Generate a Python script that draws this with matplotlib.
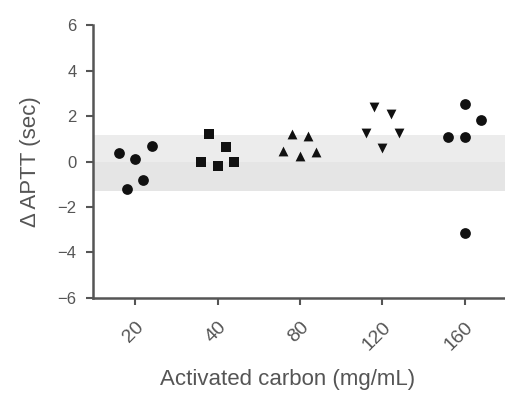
import matplotlib
matplotlib.use("Agg")
import matplotlib.pyplot as plt
import numpy as np

plt.rcParams['font.family'] = ['Liberation Sans', 'DejaVu Sans']

categories = ["20", "40", "80", "120", "160"]
offsets = [-0.2, -0.1, 0.0, 0.1, 0.2]
values_20 = [0.38, -1.2, 0.1, -0.83, 0.67]
values_40 = [0.0, 1.22, -0.2, 0.63, 0.0]
values_80 = [0.48, 1.22, 0.26, 1.14, 0.41]
values_120 = [1.25, 2.39, 0.59, 2.1, 1.27]
values_160_x = [-0.2, 0.0, 0.0, 0.0, 0.2]
values_160 = [1.07, 2.53, 1.07, -3.14, 1.83]
band_low, band_mid, band_high = -1.3, 0.0, 1.15

series = [
    (offsets, values_20, 'o'),
    (offsets, values_40, 's'),
    (offsets, values_80, '^'),
    (offsets, values_120, 'v'),
    (values_160_x, values_160, 'o'),
]

fig = plt.figure(figsize=(5.06, 3.94), dpi=100)
ax = fig.add_axes([0.184, 0.2437, 0.816, 0.6928])
ax.axhspan(band_mid, band_high, color='#ececec', lw=0, zorder=0)
ax.axhspan(band_low, band_mid, color='#e5e5e5', lw=0, zorder=0)
sizes = {'o': 60, 's': 50, '^': 50, 'v': 50}
for i, (xo, vals, m) in enumerate(series):
    xs = [i + o for o in xo]
    ax.scatter(xs, vals, marker=m, s=sizes[m], color='#111111', zorder=3, linewidths=0)

ax.set_xlim(-0.51, 4.5)
ax.set_ylim(-6, 6)
ax.set_yticks(np.arange(-6, 7, 2))
ax.set_yticklabels([str(v).replace('-', '\u2212') for v in range(-6, 7, 2)])
ax.set_xticks(range(len(categories)))
ax.set_xticklabels(categories, rotation=45, ha='right', rotation_mode='anchor')
for s in ['top', 'right']:
    ax.spines[s].set_visible(False)
for s in ['left', 'bottom']:
    ax.spines[s].set_color('#555555')
    ax.spines[s].set_linewidth(1.8)
ax.tick_params(axis='both', colors='#555555', labelcolor='#555555', width=1.5, length=5)
ax.tick_params(axis='y', labelsize=12, pad=7)
ax.tick_params(axis='x', labelsize=14, pad=10)
ax.set_xlabel("Activated carbon (mg/mL)", fontsize=16, color='#555555')
ax.xaxis.set_label_coords(0.472, -0.262)
ax.set_ylabel("\u0394 APTT (sec)", fontsize=16, color='#555555', labelpad=12)

fig.savefig("out.png", dpi=100)
